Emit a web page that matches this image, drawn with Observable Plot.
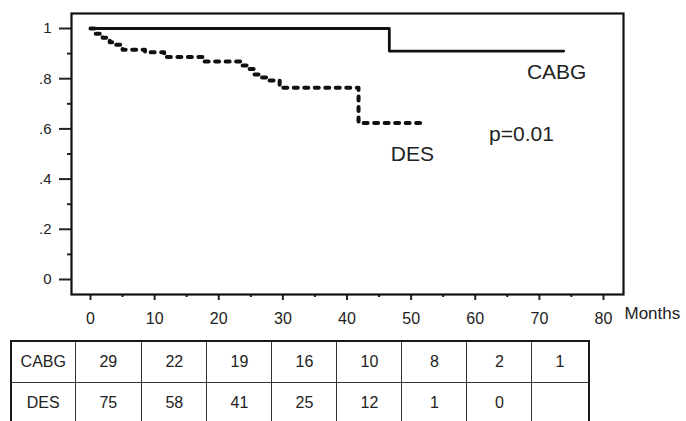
<!DOCTYPE html>
<html><head><meta charset="utf-8">
<script src="https://cdn.jsdelivr.net/npm/d3@7"></script>
<script src="https://cdn.jsdelivr.net/npm/@observablehq/plot@0.6"></script>
<style>
body{margin:0;background:#fff;font-family:"Liberation Sans",Arial,sans-serif;}
#wrap{position:relative;width:686px;height:421px;overflow:hidden;background:#fff;}
#wrap svg{position:absolute;left:0;top:0;}
#risk{position:absolute;left:10px;top:340px;border-collapse:collapse;table-layout:fixed;border:2px solid #1a1a1a;color:#222;font-size:16px;font-family:"Liberation Sans",Arial,sans-serif;}
#risk td{border:1px solid #333;height:40px;text-align:center;padding:0;}
</style></head><body><div id="wrap"></div>
<script>
// Kaplan-Meier curves (months, survival)
const cabgMonths = [0, 46.6, 73.8];
const cabgSurvival = [1, 0.91, 0.91];
const desMonths = [0, 0.8, 1.9, 3, 4, 5, 8.5, 11.5, 17.5, 23.5, 24.7, 25.5, 26.5, 27.5, 29.5, 41.8, 52.3];
const desSurvival = [1, 0.979, 0.963, 0.945, 0.935, 0.915, 0.905, 0.886, 0.869, 0.853, 0.839, 0.817, 0.805, 0.793, 0.764, 0.624, 0.624];
// axes
const xTicks = [0, 10, 20, 30, 40, 50, 60, 70, 80];
const xMinorTicks = [5, 15, 25, 35, 45, 55, 65, 75];
const yTicks = [0, 0.2, 0.4, 0.6, 0.8, 1];
const yTickLabels = ["0", ".2", ".4", ".6", ".8", "1"];
const yMinorTicks = [0.1, 0.3, 0.5, 0.7, 0.9];
const xAxisTitle = "Months";
// annotations
const annotationLabels = ["CABG", "DES", "p=0.01"];
const annotationMonths = [72.7, 50.2, 67.2];
const annotationSurvival = [0.825, 0.5, 0.578];
// number at risk table
const groups = ["CABG", "DES"];
const atRiskCABG = [29, 22, 19, 16, 10, 8, 2, 1];
const atRiskDES = [75, 58, 41, 25, 12, 1, 0, null];

const cabg = cabgMonths.map((m, i) => ({m, s: cabgSurvival[i]}));
const des = desMonths.map((m, i) => ({m, s: desSurvival[i]}));
const ann = annotationLabels.map((t, i) => ({t, m: annotationMonths[i], s: annotationSurvival[i]}));

const chart = Plot.plot({
  width: 686, height: 335,
  marginLeft: 71, marginRight: 63, marginTop: 13, marginBottom: 41,
  x: {domain: [0, 80], range: [90, 603], label: null},
  y: {domain: [0, 1], range: [279, 28], label: null},
  style: {fontFamily: "Liberation Sans, Arial, sans-serif", color: "#222", background: "#fff", overflow: "visible"},
  marks: [
    Plot.axisY(yTicks, {anchor: "left", tickSize: 12, tickPadding: 8, fontSize: 15, strokeWidth: 2, tickFormat: d => yTickLabels[yTicks.indexOf(d)], label: null}),
    Plot.axisY(yMinorTicks, {anchor: "left", tickSize: 4, strokeWidth: 2, tickFormat: () => "", label: null}),
    Plot.axisX(xTicks, {anchor: "bottom", tickSize: 6, tickPadding: 12, fontSize: 16, strokeWidth: 2, label: null}),
    Plot.axisX(xMinorTicks, {anchor: "bottom", tickSize: 3, strokeWidth: 2, tickFormat: () => "", label: null}),
    Plot.frame({stroke: "#111", strokeWidth: 2.2}),
    Plot.line(cabg, {x: "m", y: "s", curve: "step-after", stroke: "#111", strokeWidth: 2.8}),
    Plot.line(des, {x: "m", y: "s", curve: "step-after", stroke: "#111", strokeWidth: 4, strokeDasharray: "4,6.5"}),
    Plot.text(ann, {x: "m", y: "s", text: "t", fontSize: 21, fill: "#222"}),
    Plot.text([{t: xAxisTitle, m: 80}], {x: "m", text: "t", frameAnchor: "bottom", textAnchor: "start", dx: 21, dy: 24, fontSize: 17, fill: "#222"})
  ]
});

const wrap = document.getElementById("wrap");
wrap.appendChild(chart);

const colWidths = [64, 66.7, 65.3, 65, 65, 65, 65, 65, 56.6];
const table = document.createElement("table");
table.id = "risk";
const cg = document.createElement("colgroup");
colWidths.forEach(w => { const c = document.createElement("col"); c.style.width = w + "px"; cg.appendChild(c); });
table.appendChild(cg);
[atRiskCABG, atRiskDES].forEach((vals, r) => {
  const tr = document.createElement("tr");
  const th = document.createElement("td");
  th.textContent = groups[r];
  tr.appendChild(th);
  vals.forEach(v => { const td = document.createElement("td"); td.textContent = v == null ? "" : String(v); tr.appendChild(td); });
  table.appendChild(tr);
});
wrap.appendChild(table);
</script></body></html>
